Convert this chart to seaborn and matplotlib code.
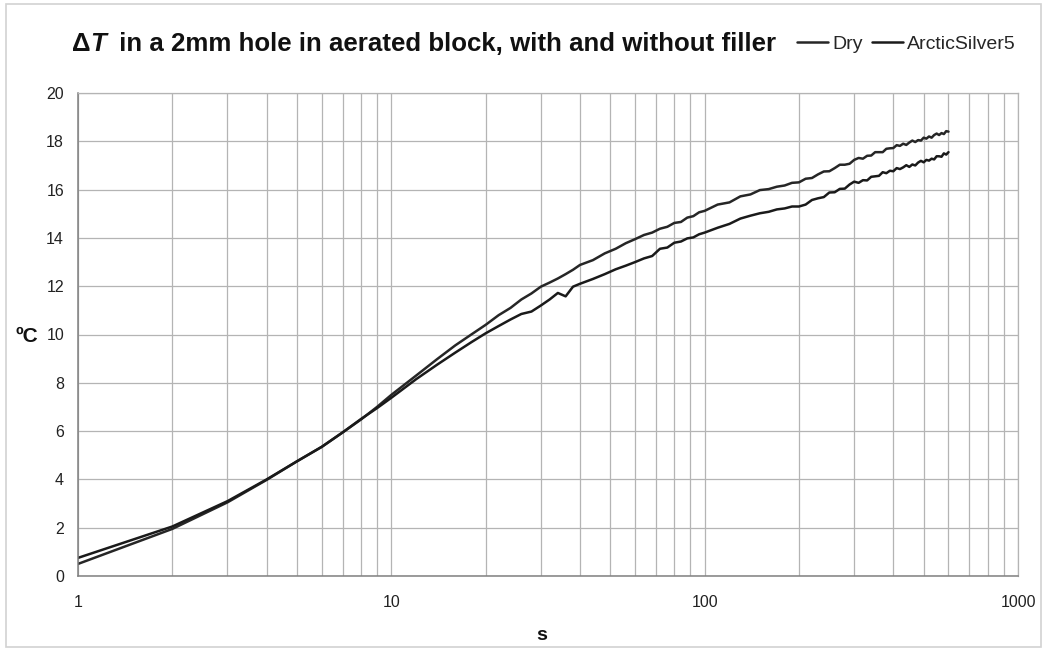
import numpy as np
import pandas as pd
import matplotlib
matplotlib.use("Agg")
import matplotlib.pyplot as plt
import matplotlib.ticker as mticker
from matplotlib.patches import Rectangle
from matplotlib.lines import Line2D
import seaborn as sns

# Elapsed time (s) for both recordings
time_s = [1, 2, 3, 4, 5, 6, 7, 8, 9, 10,
          12, 14, 16, 18, 20, 22, 24, 26, 28, 30,
          32, 34, 36, 38, 40, 44, 48, 52, 56, 60, 64, 68, 72, 76, 80, 84, 88, 92, 96, 100,
          110, 120, 130, 140, 150, 160, 170, 180, 190, 200,
          210, 220, 230, 240, 250, 260, 270, 280, 290, 300,
          310, 320, 330, 340, 350, 360, 370, 380, 390, 400,
          410, 420, 430, 440, 450, 460, 470, 480, 490, 500,
          510, 520, 530, 540, 550, 560, 570, 580, 590, 600]

# Temperature rise (degC), sensor in the hole without filler
dt_dry = [0.50, 1.95, 3.05, 3.98, 4.75, 5.35, 5.95, 6.48, 7.00, 7.50,
          8.30, 8.98, 9.55, 10.00, 10.40, 10.80, 11.10, 11.45, 11.70, 11.98,
          12.15, 12.32, 12.50, 12.68, 12.88, 13.08, 13.36, 13.55, 13.78, 13.95,
          14.12, 14.22, 14.38, 14.46, 14.62, 14.66, 14.84, 14.90, 15.06, 15.12,
          15.38, 15.47, 15.72, 15.80, 15.98, 16.02, 16.12, 16.17, 16.28, 16.30,
          16.45, 16.48, 16.63, 16.75, 16.76, 16.89, 17.03, 17.03, 17.07, 17.23,
          17.31, 17.28, 17.40, 17.41, 17.55, 17.55, 17.55, 17.69, 17.71, 17.72,
          17.84, 17.81, 17.90, 17.85, 17.95, 18.03, 17.97, 18.05, 18.03, 18.15,
          18.11, 18.20, 18.15, 18.26, 18.32, 18.26, 18.34, 18.30, 18.42, 18.40]

# Temperature rise (degC), sensor in the hole filled with ArcticSilver5
dt_as5 = [0.75, 2.05, 3.10, 4.00, 4.75, 5.35, 5.95, 6.50, 6.95, 7.38,
          8.15, 8.75, 9.25, 9.68, 10.05, 10.35, 10.62, 10.85, 10.95, 11.20,
          11.45, 11.72, 11.58, 11.98, 12.10, 12.30, 12.50, 12.70, 12.85, 13.00,
          13.15, 13.25, 13.55, 13.60, 13.80, 13.85, 13.98, 14.02, 14.15, 14.22,
          14.42, 14.58, 14.80, 14.92, 15.02, 15.08, 15.18, 15.22, 15.30, 15.30,
          15.38, 15.57, 15.64, 15.69, 15.88, 15.89, 16.03, 16.04, 16.21, 16.33,
          16.28, 16.39, 16.38, 16.53, 16.55, 16.57, 16.72, 16.68, 16.78, 16.76,
          16.89, 16.85, 16.92, 17.01, 16.94, 17.04, 17.00, 17.12, 17.19, 17.13,
          17.23, 17.20, 17.28, 17.25, 17.38, 17.38, 17.36, 17.50, 17.45, 17.55]

series_names = ["Dry", "ArcticSilver5"]
x_ticks = [1, 10, 100, 1000]
y_ticks = list(range(0, 21, 2))

df = pd.concat([
    pd.DataFrame({"s": time_s, "dT": dt_dry, "series": series_names[0]}),
    pd.DataFrame({"s": time_s, "dT": dt_as5, "series": series_names[1]}),
])

sns.set_style("white")
plt.rcParams["font.family"] = ["Liberation Sans", "DejaVu Sans"]

W, H = 1049, 653
fig = plt.figure(figsize=(W / 100, H / 100), dpi=100)
fig.patch.set_facecolor("white")
ax = fig.add_axes([78 / W, 1 - 576 / H, (1018 - 78) / W, (576 - 93) / H])

line_colors = {"Dry": "#262626", "ArcticSilver5": "#1a1a1a"}
sns.lineplot(data=df, x="s", y="dT", hue="series", palette=line_colors,
             hue_order=series_names, sort=False, estimator=None,
             linewidth=1.8, legend=False, ax=ax)

ax.set_xscale("log")
ax.set_xlim(1, 1000)
ax.set_ylim(0, 20)
ax.xaxis.set_major_locator(mticker.FixedLocator(x_ticks))
ax.xaxis.set_major_formatter(mticker.FixedFormatter([str(v) for v in x_ticks]))
ax.xaxis.set_minor_locator(mticker.LogLocator(base=10, subs=np.arange(2, 10)))
ax.xaxis.set_minor_formatter(mticker.NullFormatter())
ax.set_yticks(y_ticks)

grid_c = "#b4b4b4"
ax.grid(True, which="major", axis="both", color=grid_c, linewidth=0.9)
ax.grid(True, which="minor", axis="x", color=grid_c, linewidth=0.9)
ax.set_axisbelow(True)

for side in ("top", "right"):
    ax.spines[side].set_color(grid_c)
    ax.spines[side].set_linewidth(0.9)
for side in ("left", "bottom"):
    ax.spines[side].set_color("#808080")
    ax.spines[side].set_linewidth(1.1)

ax.tick_params(axis="x", which="major", direction="out", length=6, width=0.9,
               color="#909090", labelsize=11.5, pad=8, labelcolor="#222222")
ax.tick_params(axis="x", which="minor", length=0)
ax.tick_params(axis="y", which="major", direction="out", length=4, width=0.9,
               color="#909090", labelsize=11.5, pad=6, labelcolor="#222222")

ax.set_xlabel("")
ax.set_ylabel("")
fig.text(542 / W, 1 - 635 / H, "s", fontsize=14, fontweight="bold",
         ha="center", va="center", color="#111111")
fig.text(27 / W, 1 - 336 / H, "ºC", fontsize=15, fontweight="bold",
         ha="center", va="center", color="#111111")

# Title assembled from pieces so that T can be italic
fig.canvas.draw()
rend = fig.canvas.get_renderer()
ty = 1 - 44 / H
tx = 72 / W
pieces = [("Δ", "normal", 0), ("T", "italic", 6),
          (" in a 2mm hole in aerated block, with and without filler", "normal", 0)]
for txt, style, extra in pieces:
    t = fig.text(tx, ty, txt, fontsize=18.6, fontweight="bold", style=style,
                 ha="left", va="center", color="#111111")
    bb = t.get_window_extent(rend)
    tx += (bb.width + extra) / W

handles = [Line2D([], [], color=line_colors[n], linewidth=1.8) for n in series_names]
ax.legend(handles, series_names, loc="center left",
          bbox_to_anchor=(797 / W, ty), bbox_transform=fig.transFigure,
          ncol=2, frameon=False, fontsize=14, handlelength=1.6,
          handletextpad=0.2, columnspacing=0.5, borderpad=0, borderaxespad=0)

# light frame round the chart area
fig.patches.append(Rectangle((6 / W, 6 / H), (1041 - 6) / W, (649 - 6) / H,
                             transform=fig.transFigure, fill=False,
                             edgecolor="#d2d2d2", linewidth=1.2))

fig.savefig("out.png", dpi=100, facecolor="white")
